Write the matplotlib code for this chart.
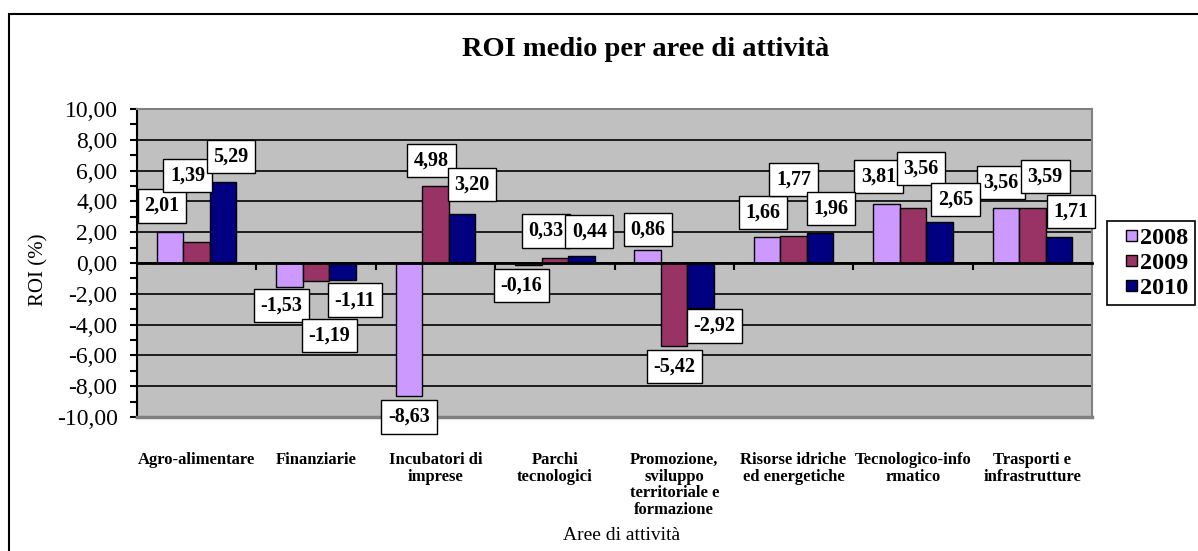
import matplotlib
matplotlib.use("Agg")
import matplotlib.pyplot as plt
import matplotlib.patches as mpatches
from matplotlib.ticker import FuncFormatter, MultipleLocator
from matplotlib.container import BarContainer
from matplotlib.legend_handler import HandlerPatch, update_from_first_child

plt.rcParams['font.family'] = ['Liberation Serif', 'DejaVu Serif']

categories = ['Agro-alimentare', 'Finanziarie', 'Incubatori di\nimprese',
              'Parchi\ntecnologici',
              'Promozione,\nsviluppo\nterritoriale e\nformazione',
              'Risorse idriche\ned energetiche', 'Tecnologico-info\nrmatico',
              'Trasporti e\ninfrastrutture']
years = ['2008', '2009', '2010']
roi_2008 = [2.01, -1.53, -8.63, -0.16, 0.86, 1.66, 3.81, 3.56]
roi_2009 = [1.39, -1.19, 4.98, 0.33, -5.42, 1.77, 3.56, 3.59]
roi_2010 = [5.29, -1.11, 3.20, 0.44, -2.92, 1.96, 2.65, 1.71]
series = [roi_2008, roi_2009, roi_2010]
colors = ['#CC99FF', '#993366', '#000080']

# where each value box sits relative to the bar end (pixels), as in the original
label_offsets = [
    [(-8, 26), (-9, 66), (8, 25)],
    [(-8, -19), (13, -54), (12, -20)],
    [(0, -21), (-4, 26), (10, 29)],
    [(-7, -20), (-9, 27), (8, 25)],
    [(0, 20), (0, -20), (14, -18)],
    [(-4, 25), (0, 56), (11, 24)],
    [(-8, 28), (8, 40), (16, 23)],
    [(-5, 26), (13, 31), (12, 25)],
]

W, H = 1198, 551
fig = plt.figure(figsize=(W / 100, H / 100), dpi=100)
ax = fig.add_axes([137 / W, 1 - 417 / H, (1092 - 137) / W, (417 - 109) / H])
ax.set_facecolor('#C0C0C0')

bw = 0.222
n = len(categories)
bars = []
for j, vals in enumerate(series):
    xs = [i + (j - 1) * bw for i in range(n)]
    b = ax.bar(xs, vals, width=bw, color=colors[j], edgecolor='black',
               linewidth=1, zorder=2, label=years[j])
    bars.append(b)
    for i, v in enumerate(vals):
        dx, dy = label_offsets[i][j]
        ax.annotate(f"{v:.2f}".replace('.', ','), (xs[i], v),
                    xytext=(dx, dy), textcoords='offset pixels',
                    ha='center', va='center', fontsize=14.5, fontweight='bold',
                    bbox=dict(boxstyle='square,pad=0.33', fc='white',
                              ec='black', lw=1), zorder=5)

ax.set_xlim(-0.5, n - 0.5)
ax.set_ylim(-10, 10)
ax.yaxis.set_major_locator(MultipleLocator(2))
ax.yaxis.set_minor_locator(MultipleLocator(1))
ax.yaxis.set_major_formatter(FuncFormatter(lambda v, p: f"{v:.2f}".replace('.', ',')))
ax.tick_params(axis='y', which='both', direction='out', length=5, width=1.5,
               labelsize=17, pad=9)
ax.set_axisbelow(True)
ax.grid(True, axis='y', color='black', linewidth=1.2)

# category axis crosses at zero
ax.spines['bottom'].set_position(('data', 0))
ax.spines['bottom'].set_linewidth(2)
ax.spines['left'].set_linewidth(1.5)
for s in ['top', 'right']:
    ax.spines[s].set_color('#808080')
    ax.spines[s].set_linewidth(1.5)
ax.axhline(-10, color='#808080', linewidth=2.5, zorder=3, clip_on=False)
ax.set_xticks([i + 0.5 for i in range(n - 1)])
ax.set_xticklabels([])
ax.tick_params(axis='x', direction='out', length=5, width=1.5)

for i, cat in enumerate(categories):
    ax.annotate(cat, (i, 0), xycoords=('data', 'axes fraction'),
                xytext=(0, -35), textcoords='offset pixels',
                ha='center', va='top', fontsize=12, fontweight='bold',
                linespacing=1.05)

fig.text(646 / W, 1 - 50 / H, 'ROI medio per aree di attività', ha='center',
         va='center', fontsize=20.5, fontweight='bold')
fig.text(622 / W, 1 - 535 / H, 'Aree di attività', ha='center', va='center',
         fontsize=14)
fig.text(39 / W, 1 - 270 / H, 'ROI (%)', ha='center', va='center',
         fontsize=15, rotation=90)


def square_patch(legend, orig_handle, xdescent, ydescent, width, height, fontsize):
    s = 0.48 * fontsize
    return mpatches.Rectangle((width - s - xdescent, (height - s) / 2 - ydescent), s, s)


leg = fig.legend(handles=bars, labels=years, loc='upper left',
                 bbox_to_anchor=(1107 / W, 1 - 221 / H),
                 prop={'size': 17.5, 'weight': 'bold'}, fancybox=False,
                 edgecolor='black', framealpha=1, borderpad=0.25,
                 handlelength=1.0, handletextpad=0.12,
                 labelspacing=0.12, borderaxespad=0,
                 handler_map={BarContainer: HandlerPatch(
                     patch_func=square_patch,
                     update_func=update_from_first_child)})
leg.get_frame().set_linewidth(1.2)

fig.patches.append(mpatches.Rectangle((9 / W, -0.1), 1.2, 1.1 - 14 / H,
                                      transform=fig.transFigure, fill=False,
                                      edgecolor='black', linewidth=1.5))

fig.savefig('out.png', dpi=100)
